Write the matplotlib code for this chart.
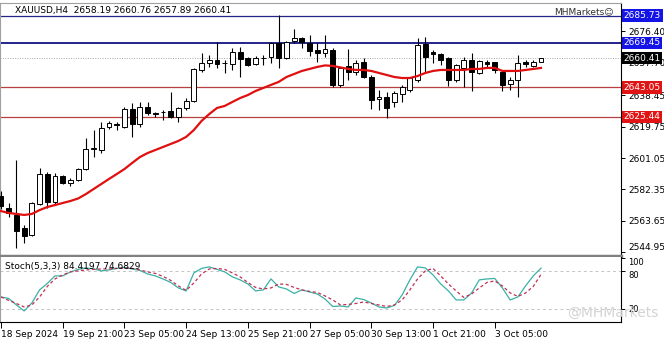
import numpy as np
import matplotlib
matplotlib.use('Agg')
import matplotlib.pyplot as plt


# XAUUSD H4 candles
opens = [2578.5, 2571.3, 2567.2, 2559.4, 2555.3, 2573.7, 2591.5, 2574.9, 2590.4, 2586.2,
         2588.0, 2594.5, 2606.4, 2605.8, 2619.5, 2621.0, 2619.5, 2630.2, 2621.3, 2631.4,
         2627.8, 2628.4, 2629.0, 2625.4, 2630.8, 2635.0, 2653.4, 2657.6, 2659.3, 2657.6,
         2657.0, 2664.1, 2660.5, 2657.0, 2660.5, 2661.1, 2669.5, 2660.5, 2670.6, 2672.4,
         2669.5, 2665.3, 2663.5, 2665.3, 2644.5, 2655.8, 2652.2, 2658.2, 2649.2, 2636.1,
         2637.3, 2634.4, 2639.1, 2641.5, 2647.4, 2668.9, 2664.1, 2662.9, 2660.5, 2647.4,
         2654.6, 2659.3, 2651.6, 2658.2, 2658.2, 2652.2, 2645.1, 2647.4, 2658.2, 2655.8,
         2658.19]
highs = [2581.4, 2574.3, 2599.9, 2561.2, 2574.9, 2595.1, 2592.7, 2592.1, 2591.0, 2589.2,
         2595.1, 2613.0, 2617.7, 2622.5, 2623.1, 2622.5, 2631.4, 2633.8, 2634.4, 2634.4,
         2628.4, 2629.6, 2640.3, 2631.4, 2636.7, 2654.6, 2663.5, 2662.3, 2670.0, 2659.3,
         2666.5, 2667.1, 2661.1, 2661.7, 2662.3, 2670.0, 2686.1, 2670.6, 2677.8, 2673.0,
         2674.2, 2669.5, 2674.2, 2666.5, 2655.2, 2665.9, 2659.3, 2660.5, 2650.4, 2641.5,
         2640.3, 2640.9, 2644.5, 2649.2, 2672.4, 2673.0, 2665.3, 2663.5, 2661.1, 2657.0,
         2661.1, 2663.5, 2659.3, 2659.3, 2658.4, 2653.4, 2649.2, 2662.3, 2659.3, 2659.3,
         2660.76]
lows = [2570.7, 2566.0, 2547.5, 2550.5, 2554.7, 2573.1, 2571.3, 2573.1, 2585.6, 2584.4,
        2587.4, 2593.9, 2601.7, 2604.0, 2618.3, 2617.7, 2618.9, 2613.6, 2619.5, 2626.6,
        2625.4, 2623.7, 2624.9, 2622.5, 2629.6, 2634.4, 2652.2, 2655.2, 2654.6, 2651.6,
        2653.4, 2649.2, 2655.8, 2656.4, 2656.4, 2657.6, 2654.6, 2659.9, 2669.5, 2666.5,
        2661.7, 2658.2, 2661.1, 2643.3, 2643.3, 2647.4, 2650.4, 2648.6, 2630.2, 2629.6,
        2624.9, 2631.4, 2634.4, 2640.3, 2646.3, 2651.6, 2657.6, 2656.4, 2643.9, 2646.3,
        2643.3, 2640.9, 2651.0, 2654.6, 2651.6, 2640.9, 2641.5, 2637.3, 2655.2, 2655.2,
        2657.89]
closes = [2572.5, 2568.4, 2557.6, 2554.7, 2574.3, 2591.5, 2574.9, 2590.4, 2586.2, 2588.0,
          2594.5, 2606.4, 2607.0, 2618.9, 2621.9, 2620.4, 2630.2, 2621.3, 2631.4, 2627.8,
          2627.5, 2628.6, 2625.4, 2630.8, 2635.0, 2654.0, 2657.6, 2659.3, 2657.0, 2657.3,
          2664.1, 2659.9, 2656.4, 2660.5, 2660.3, 2669.5, 2660.5, 2670.0, 2672.4, 2670.0,
          2664.7, 2663.5, 2665.9, 2644.5, 2654.6, 2652.2, 2657.6, 2649.2, 2635.5, 2637.3,
          2630.8, 2639.7, 2643.3, 2648.6, 2668.3, 2661.1, 2662.9, 2659.3, 2647.4, 2656.4,
          2659.3, 2652.2, 2658.7, 2657.0, 2653.4, 2644.5, 2647.4, 2657.6, 2657.0, 2658.2,
          2660.41]

# red moving average
ma = [2569.5, 2568.4, 2567.8, 2567.2, 2567.8, 2570.1, 2571.9, 2573.1, 2574.3, 2575.5,
      2577.0, 2579.6, 2582.6, 2585.6, 2588.6, 2591.5, 2594.5, 2598.1, 2601.6, 2604.0,
      2605.8, 2607.6, 2609.4, 2611.2, 2613.6, 2617.7, 2623.1, 2627.2, 2630.8, 2632.0,
      2634.4, 2636.7, 2638.5, 2640.9, 2642.7, 2644.5, 2646.3, 2649.2, 2651.0, 2652.8,
      2654.0, 2655.2, 2656.1, 2655.8, 2654.9, 2654.0, 2653.4, 2653.4, 2652.8, 2651.6,
      2650.4, 2649.2, 2648.6, 2648.6, 2649.8, 2651.6, 2652.8, 2653.4, 2653.4, 2653.4,
      2653.4, 2654.0, 2654.0, 2654.6, 2654.6, 2652.8, 2652.8, 2652.8, 2653.4, 2654.0,
      2654.6]

# Stoch(5,3,3)
stoch_main = [39.0, 36.6, 26.4, 16.9, 29.5, 50.1, 60.3, 72.2, 72.2, 78.5,
              82.5, 84.8, 83.2, 80.1, 81.6, 84.0, 85.6, 83.2, 80.9, 75.3,
              72.2, 67.4, 61.9, 53.2, 48.5, 76.9, 84.0, 86.4, 82.5, 78.5,
              70.6, 65.9, 59.5, 48.5, 50.1, 67.4, 54.8, 51.6, 44.5, 50.1,
              46.9, 43.7, 35.8, 24.0, 24.8, 23.2, 37.4, 35.0, 29.5, 23.2,
              21.6, 25.6, 42.2, 65.9, 86.4, 84.8, 73.8, 59.5, 48.5, 34.3,
              34.3, 45.3, 65.9, 67.4, 68.2, 53.2, 34.3, 39.0, 56.4, 72.2,
              84.42]
stoch_signal = [39.0, 33.5, 28.7, 23.2, 26.4, 39.0, 55.6, 67.4, 73.8, 78.5,
                80.1, 81.6, 82.4, 83.2, 83.2, 84.0, 84.8, 84.0, 81.6, 78.5,
                76.1, 71.4, 65.1, 56.4, 49.3, 61.1, 75.3, 83.2, 84.0, 82.5,
                76.9, 70.6, 61.9, 54.0, 51.6, 53.2, 59.5, 58.8, 54.0, 50.1,
                47.7, 46.1, 40.6, 34.3, 26.4, 27.2, 28.7, 31.1, 28.7, 26.4,
                24.0, 26.4, 34.3, 50.1, 67.4, 80.1, 84.0, 72.2, 59.5, 48.5,
                38.2, 43.7, 53.2, 61.9, 64.3, 56.4, 45.3, 39.8, 45.3, 55.6,
                74.68]

price_ticks = [2676.40, 2657.70, 2638.45, 2619.75, 2601.05, 2582.35, 2563.65, 2544.95]
time_pos = [0, 8, 16, 24, 32, 40, 48, 56, 64]
time_labels = ['18 Sep 2024', '19 Sep 21:00', '23 Sep 05:00', '24 Sep 13:00', '25 Sep 21:00',
               '27 Sep 05:00', '30 Sep 13:00', '1 Oct 21:00', '3 Oct 05:00']

blue_levels = [2685.73, 2669.45]
red_levels = [2643.05, 2625.44]
last_price = 2660.41

W, H = 664, 339
fig = plt.figure(figsize=(W / 100, H / 100), dpi=100)
ax = fig.add_axes([0, 1 - 256 / H, 621 / W, 253 / H])
ax2 = fig.add_axes([0, 1 - 322 / H, 621 / W, 65 / H])

x = np.arange(len(closes))
o = np.array(opens)
c = np.array(closes)
up = c >= o

# candles
ax.vlines(x, lows, highs, color='black', lw=0.8, zorder=3)
body_h = np.maximum(np.abs(c - o), 0.15)
ax.bar(x[up], body_h[up], bottom=o[up], width=0.62, facecolor='white',
       edgecolor='black', lw=0.7, zorder=4)
ax.bar(x[~up], body_h[~up], bottom=c[~up], width=0.62, facecolor='black',
       edgecolor='black', lw=0.7, zorder=4)
ax.plot(x, ma, color='#e01010', lw=1.6, zorder=5)

# levels
ax.axhline(blue_levels[0], color='#24248a', lw=0.9, zorder=2)
ax.axhline(blue_levels[1], color='#24248a', lw=1.4, zorder=2)
for lvl in red_levels:
    ax.axhline(lvl, color='#b84040', lw=0.9, zorder=2)
ax.axhline(last_price, color='#a8a8a8', lw=0.7, ls=(0, (1, 1.5)), zorder=1)

ax.set_xlim(-0.13, 80.37)
ax.set_ylim(2542.8, 2693.2)
ax.yaxis.tick_right()
ax.set_yticks(price_ticks)
ax.set_yticklabels(['%.2f' % v for v in price_ticks])
ax.tick_params(axis='y', labelsize=6.5, length=3, pad=2, width=0.7)
ax.get_yticklabels()[-1].set_verticalalignment('bottom')
ax.set_xticks([])
for s in ['left', 'top']:
    ax.spines[s].set_color('#a0a0a0')
    ax.spines[s].set_linewidth(0.8)
ax.spines['right'].set_linewidth(0.8)
ax.spines['bottom'].set_color('#808080')
ax.spines['bottom'].set_linewidth(2.5)

boxes = [(blue_levels[0], '#1414e6'), (blue_levels[1], '#1414e6'),
         (last_price, 'black'), (red_levels[0], '#e01414'), (red_levels[1], '#e01414')]
for val, col in boxes:
    ax.text(1.004, val, '%.2f' % val, transform=ax.get_yaxis_transform(),
            fontsize=6.5, color='white', va='center', ha='left', zorder=10,
            bbox=dict(boxstyle='square,pad=0.2', fc=col, ec='none'))

# stochastic panel
ax2.axhline(80, color='#c4c4c4', lw=0.7, ls=(0, (3, 3)))
ax2.axhline(20, color='#c4c4c4', lw=0.7, ls=(0, (3, 3)))
ax2.plot(x, stoch_main, color='#3ab0a6', lw=0.9)
ax2.plot(x, stoch_signal, color='#c23052', lw=0.9, ls=(0, (2.5, 2)))
ax2.set_xlim(-0.13, 80.37)
ax2.set_ylim(-0.5, 102)
ax2.yaxis.tick_right()
ax2.set_yticks([100, 80, 20])
ax2.set_yticklabels(['100', '80', '20'])
ax2.tick_params(axis='y', labelsize=6, length=3, pad=2, width=0.7)
ax2.get_yticklabels()[0].set_verticalalignment('top')
ax2.get_yticklabels()[1].set_verticalalignment('top')
ax2.set_xticks(time_pos)
ax2.set_xticklabels(time_labels)
ax2.tick_params(axis='x', labelsize=6.5, length=4, pad=1.5, width=0.7)
for lbl in ax2.get_xticklabels():
    lbl.set_horizontalalignment('left')
ax2.spines['left'].set_color('#a0a0a0')
ax2.spines['top'].set_visible(False)
for s in ['right', 'bottom']:
    ax2.spines[s].set_linewidth(0.8)

# header texts
fig.text(15 / W, 1 - 11 / H, 'XAUUSD,H4  2658.19 2660.76 2657.89 2660.41',
         fontsize=6.5, va='center', ha='left')
fig.text(614 / W, 1 - 12 / H, 'MHMarkets\u263a', fontsize=6.5, va='center',
         ha='right', color='#303030')
fig.text(5 / W, 1 - 266 / H, 'Stoch(5,3,3) 84.4197 74.6829', fontsize=6.5,
         va='center', ha='left')
fig.text(658 / W, 1 - 313 / H, '@MHMarkets', fontsize=10, va='center',
         ha='right', color='#d4d4d4', zorder=0)

fig.savefig('out.png', dpi=100)
